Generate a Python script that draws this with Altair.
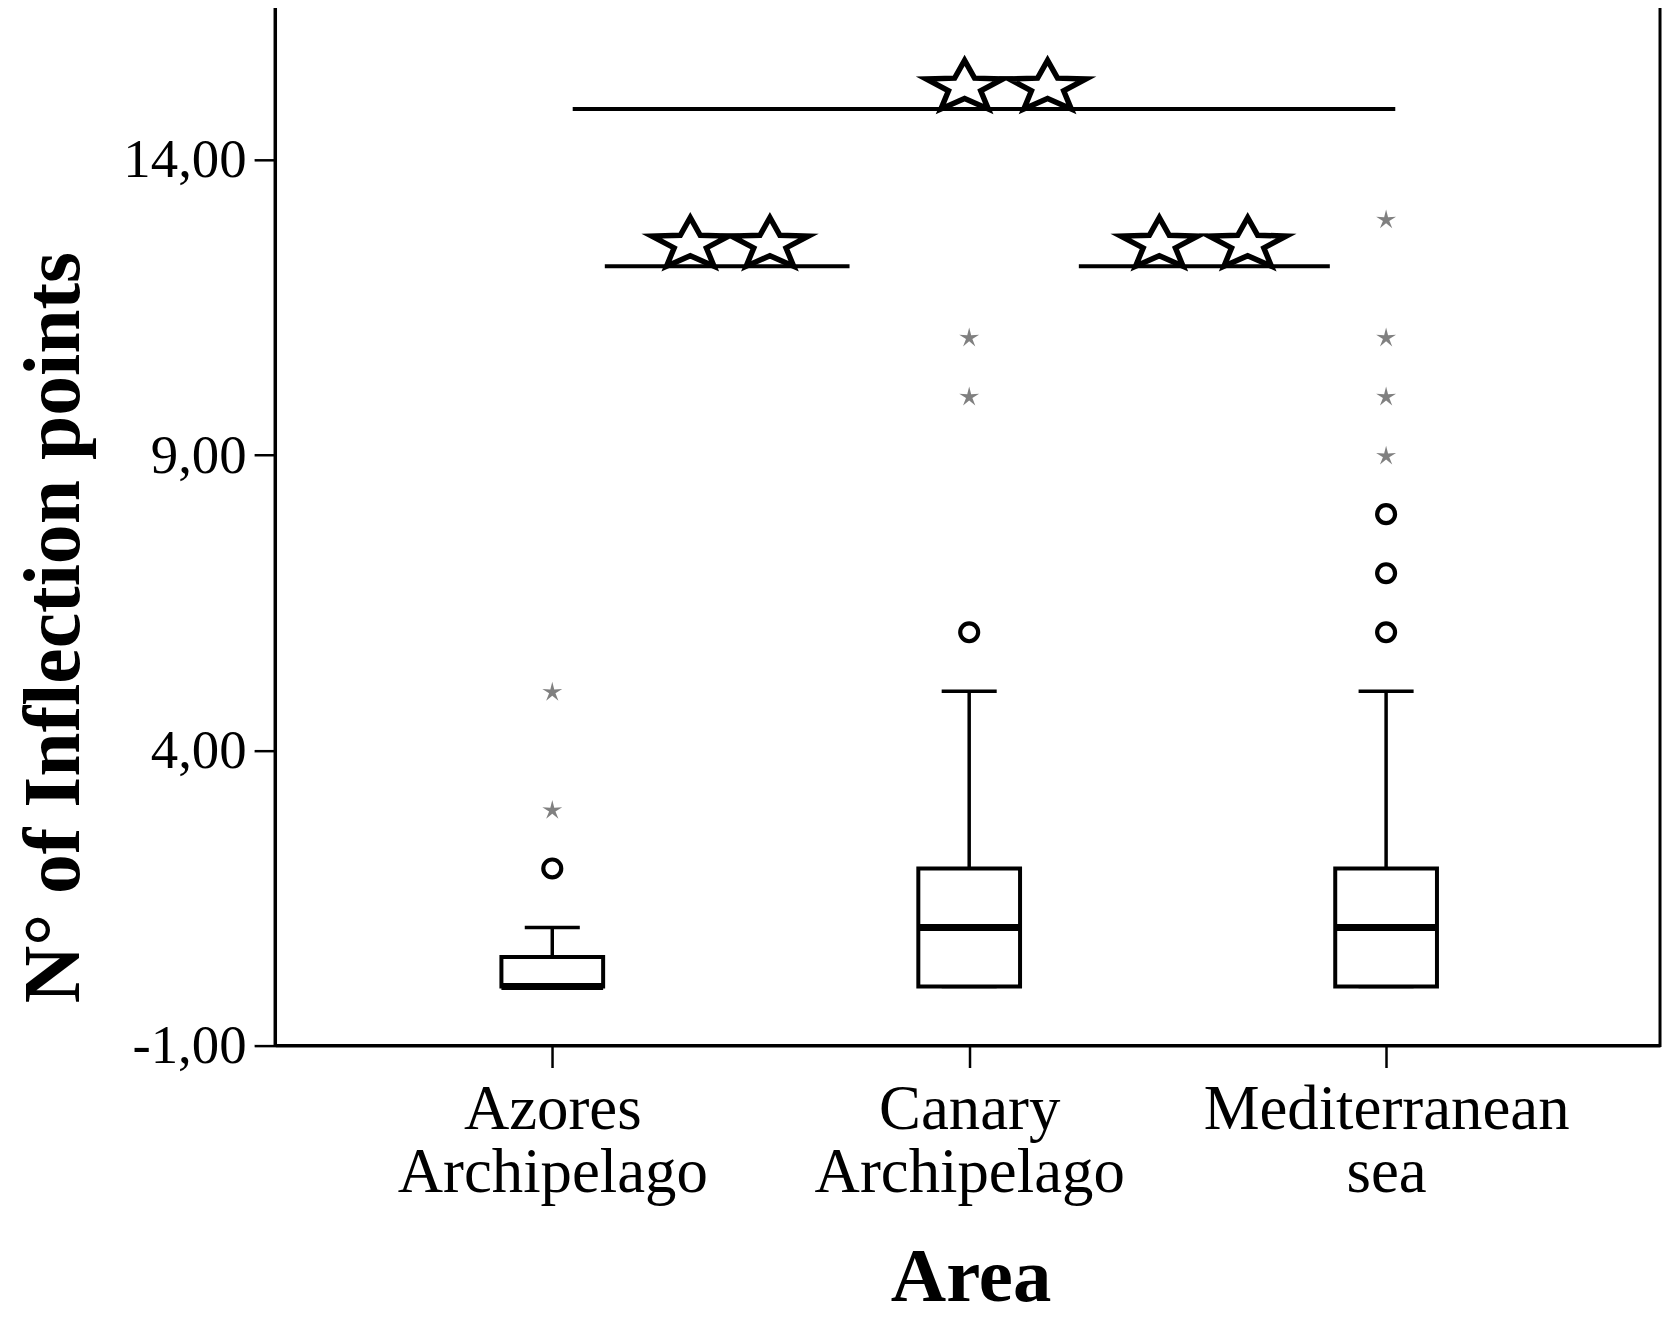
import math
import json
import altair as alt
import pandas as pd

# ---------------- data ----------------
categories = ["Azores Archipelago", "Canary Archipelago", "Mediterranean sea"]
cat_pos = [0, 1, 2]
q1 = [0, 0, 0]
median = [0, 1, 1]
q3 = [0.5, 2, 2]
whisker_low = [0, 0, 0]
whisker_high = [1, 5, 5]

outlier_area = [0, 1, 2, 2, 2]
outlier_value = [2, 6, 6, 7, 8]

extreme_area = [0, 0, 1, 1, 2, 2, 2, 2]
extreme_value = [3, 5, 10, 11, 9, 10, 11, 13]

# significance brackets (x in category units, y in data units)
sig_x1 = [0.049, 0.126, 1.263]
sig_x2 = [2.022, 0.713, 1.865]
sig_y = [14.86, 12.2, 12.2]
sig_star_x = [0.989, 1.188, 0.331, 0.522, 1.456, 1.668]
sig_star_y = [14.86, 14.86, 12.2, 12.2, 12.2, 12.2]

y_ticks = [-1, 4, 9, 14]

# ---------------- shapes ----------------
def star_path(sx, ri, y0):
    pts = []
    for k in range(10):
        th = math.radians(-90 + 36 * k)
        r = 1.0 if k % 2 == 0 else ri
        pts.append((sx * r * math.cos(th), r * math.sin(th) - y0))
    return "M" + " L".join(f"{x:.4f},{y:.4f}" for x, y in pts) + " Z"

SIG_STAR = star_path(1.5, 0.42, 0.809)
ASTERISK = star_path(1.0, 0.32, -0.0955)

HALF_BOX = 0.122
HALF_CAP = 0.066

boxes = pd.DataFrame({
    "pos": cat_pos,
    "q1": q1, "median": median, "q3": q3,
    "wlo": whisker_low, "whi": whisker_high,
})
boxes["left"] = boxes["pos"] - HALF_BOX
boxes["right"] = boxes["pos"] + HALF_BOX
boxes["capl"] = boxes["pos"] - HALF_CAP
boxes["capr"] = boxes["pos"] + HALF_CAP

outliers = pd.DataFrame({"pos": outlier_area, "v": outlier_value})
extremes = pd.DataFrame({"pos": extreme_area, "v": extreme_value})
sig = pd.DataFrame({"x1": sig_x1, "x2": sig_x2, "y": sig_y})
sig_stars = pd.DataFrame({"x": sig_star_x, "y": sig_star_y})

XDOM = [-0.665, 2.657]
YDOM = [-1, 16.65]

cats_js = json.dumps(categories).replace('"', "'")

x_axis = alt.Axis(
    values=cat_pos,
    labelExpr=f"split({cats_js}[datum.value], ' ')",
    title="Area",
    titleFont="Liberation Serif", titleFontSize=77, titleFontWeight="bold",
    titleColor="black", titleY=256, titleX=698, titleBaseline="alphabetic",
    labelFont="Liberation Serif", labelFontSize=63, labelLineHeight=63,
    labelColor="black", labelBaseline="top", labelPadding=11,
    labelLimit=1000, labelOverlap=False, labelFlush=False,
    tickSize=22, tickWidth=2.5, tickColor="black",
    domainColor="black", domainWidth=3, grid=False, labelAngle=0,
)
y_axis = alt.Axis(
    values=y_ticks,
    labelExpr="replace(replace(format(datum.value, '.2f'), '.', ','), '\u2212', '-')",
    title="N\u00b0 of Inflection points",
    titleFont="Liberation Serif", titleFontSize=80, titleFontWeight="bold",
    titleColor="black", titleAngle=270, titleX=-221, titleY=626,
    titleAlign="center", titleBaseline="middle", titleLimit=2000,
    labelFont="Liberation Serif", labelFontSize=55, labelColor="black",
    labelPadding=8, tickSize=21, tickWidth=2.5, tickColor="black",
    labelOverlap=False, labelFlush=False,
    domainColor="black", domainWidth=3, grid=False,
)

xs = alt.Scale(domain=XDOM, nice=False, zero=False)
ys = alt.Scale(domain=YDOM, nice=False, zero=False)

base_box = alt.Chart(boxes)

whisk_up = base_box.mark_rule(color="black", strokeWidth=3.5).encode(
    x=alt.X("pos:Q", scale=xs, axis=x_axis),
    y=alt.Y("q3:Q", scale=ys, axis=y_axis),
    y2="whi:Q",
)
whisk_lo = base_box.mark_rule(color="black", strokeWidth=3.5).encode(
    x=alt.X("pos:Q", scale=xs), y=alt.Y("wlo:Q", scale=ys), y2="q1:Q",
)
cap_up = base_box.mark_rule(color="black", strokeWidth=3.5).encode(
    x=alt.X("capl:Q", scale=xs), x2="capr:Q", y=alt.Y("whi:Q", scale=ys),
)
cap_lo = base_box.mark_rule(color="black", strokeWidth=3.5).encode(
    x=alt.X("capl:Q", scale=xs), x2="capr:Q", y=alt.Y("wlo:Q", scale=ys),
)
box = base_box.mark_rect(fill="white", stroke="black", strokeWidth=4).encode(
    x=alt.X("left:Q", scale=xs), x2="right:Q",
    y=alt.Y("q1:Q", scale=ys), y2="q3:Q",
)
med = base_box.mark_rule(color="black", strokeWidth=7).encode(
    x=alt.X("left:Q", scale=xs), x2="right:Q", y=alt.Y("median:Q", scale=ys),
)

circ = alt.Chart(outliers).mark_point(
    shape="circle", size=324, filled=False, stroke="black", strokeWidth=4.2, opacity=1
).encode(x=alt.X("pos:Q", scale=xs), y=alt.Y("v:Q", scale=ys))

ext = alt.Chart(extremes).mark_point(
    shape=ASTERISK, size=440, filled=True, fill="#808080", strokeWidth=0, opacity=1
).encode(x=alt.X("pos:Q", scale=xs), y=alt.Y("v:Q", scale=ys))

sig_lines = alt.Chart(sig).mark_rule(color="black", strokeWidth=4).encode(
    x=alt.X("x1:Q", scale=xs), x2="x2:Q", y=alt.Y("y:Q", scale=ys),
)
sig_mark = alt.Chart(sig_stars).mark_point(
    shape=SIG_STAR, size=2916, filled=True, fill="white", stroke="black",
    strokeWidth=5.5, strokeJoin="miter", opacity=1
).encode(x=alt.X("x:Q", scale=xs), y=alt.Y("y:Q", scale=ys))

chart = alt.layer(
    whisk_up, whisk_lo, cap_up, cap_lo, box, med, circ, ext, sig_lines, sig_mark
).properties(
    width=1390, height=1046,
    autosize=alt.AutoSizeParams(type="none"),
    padding={"left": 268, "top": -7, "right": 3, "bottom": 267},
    background="white",
).configure_view(
    stroke="black", strokeWidth=3
)

chart.save("out.html", embed_options={"renderer": "svg", "actions": False})
